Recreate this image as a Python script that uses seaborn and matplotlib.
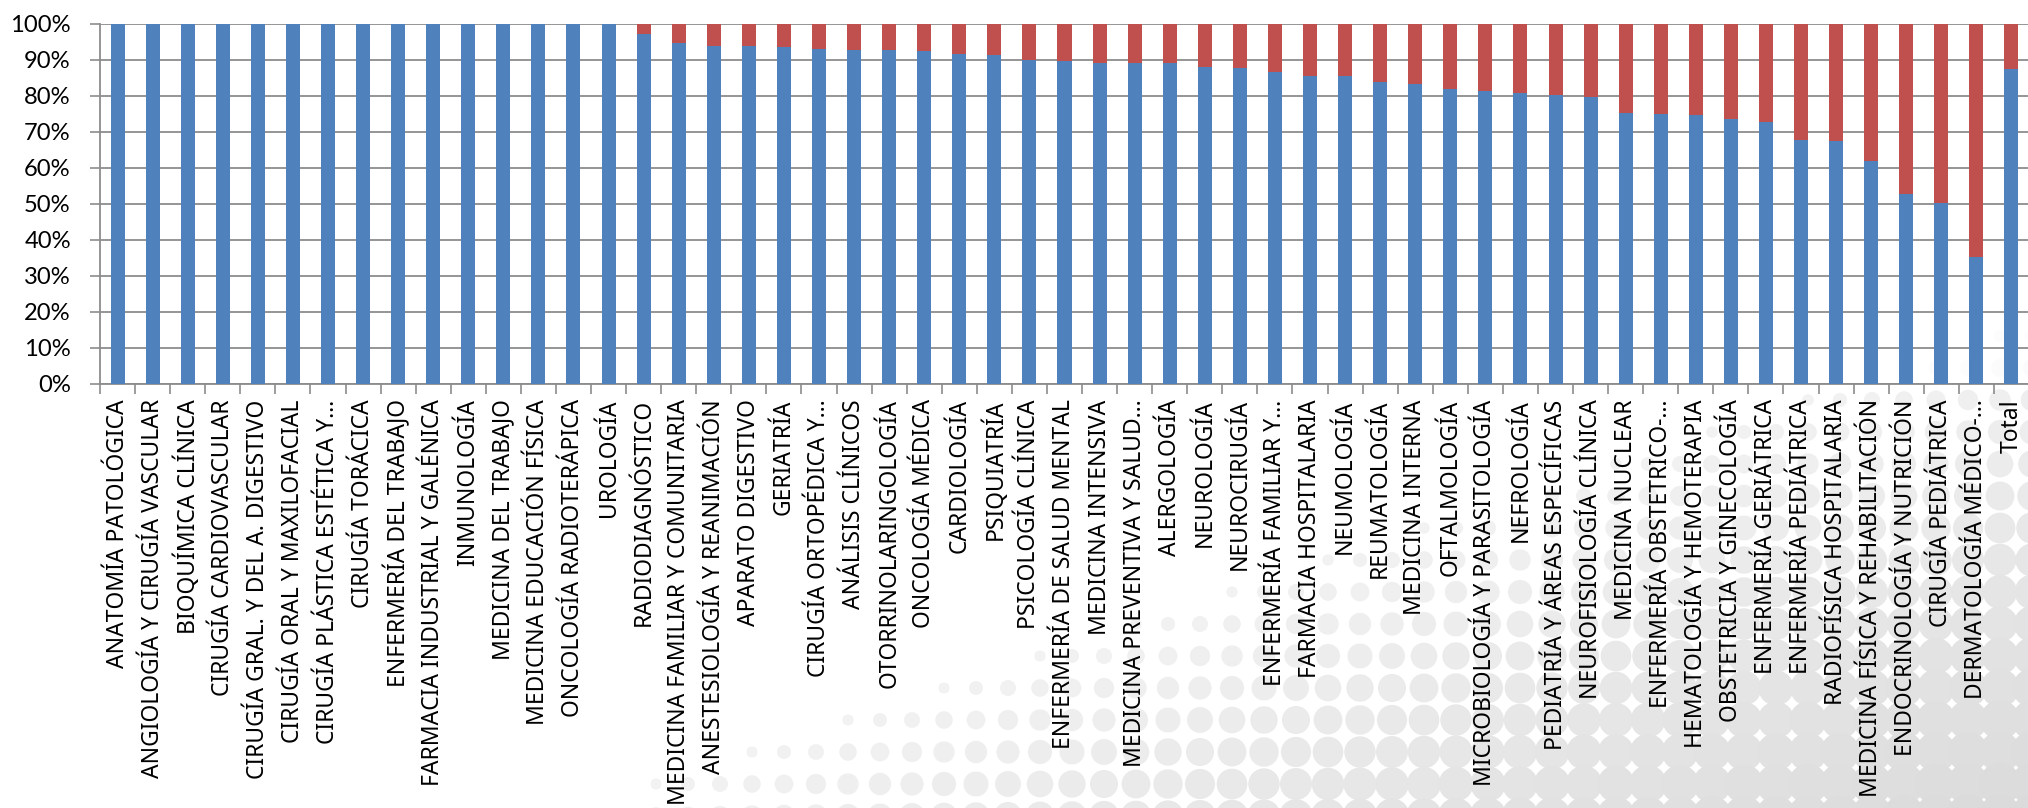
import numpy as np
import matplotlib
matplotlib.use("Agg")
import matplotlib.pyplot as plt
from matplotlib.patches import Circle
from matplotlib.collections import PatchCollection
import seaborn as sns

# categories (x axis) and the two stacked shares (%)
especialidades = [
    "ANATOMÍA PATOLÓGICA", "ANGIOLOGÍA Y CIRUGÍA VASCULAR", "BIOQUÍMICA CLÍNICA",
    "CIRUGÍA CARDIOVASCULAR", "CIRUGÍA GRAL. Y DEL A. DIGESTIVO", "CIRUGÍA ORAL Y MAXILOFACIAL",
    "CIRUGÍA PLÁSTICA ESTÉTICA Y…", "CIRUGÍA TORÁCICA", "ENFERMERÍA DEL TRABAJO",
    "FARMACIA INDUSTRIAL Y GALÉNICA", "INMUNOLOGÍA", "MEDICINA DEL TRABAJO",
    "MEDICINA EDUCACIÓN FÍSICA", "ONCOLOGÍA RADIOTERÁPICA", "UROLOGÍA",
    "RADIODIAGNÓSTICO", "MEDICINA FAMILIAR Y COMUNITARIA", "ANESTESIOLOGÍA Y REANIMACIÓN",
    "APARATO DIGESTIVO", "GERIATRÍA", "CIRUGÍA ORTOPÉDICA Y…", "ANÁLISIS CLÍNICOS",
    "OTORRINOLARINGOLOGÍA", "ONCOLOGÍA MÉDICA", "CARDIOLOGÍA", "PSIQUIATRÍA",
    "PSICOLOGÍA CLÍNICA", "ENFERMERÍA DE SALUD MENTAL", "MEDICINA INTENSIVA",
    "MEDICINA PREVENTIVA Y SALUD…", "ALERGOLOGÍA", "NEUROLOGÍA", "NEUROCIRUGÍA",
    "ENFERMERÍA FAMILIAR Y…", "FARMACIA HOSPITALARIA", "NEUMOLOGÍA", "REUMATOLOGÍA",
    "MEDICINA INTERNA", "OFTALMOLOGÍA", "MICROBIOLOGÍA Y PARASITOLOGÍA", "NEFROLOGÍA",
    "PEDIATRÍA Y ÁREAS ESPECÍFICAS", "NEUROFISIOLOGÍA CLÍNICA", "MEDICINA NUCLEAR",
    "ENFERMERÍA OBSTETRICO-…", "HEMATOLOGÍA Y HEMOTERAPIA", "OBSTETRICIA Y GINECOLOGÍA",
    "ENFERMERÍA GERIÁTRICA", "ENFERMERÍA PEDIÁTRICA", "RADIOFÍSICA HOSPITALARIA",
    "MEDICINA FÍSICA Y REHABILITACIÓN", "ENDOCRINOLOGÍA Y NUTRICIÓN", "CIRUGÍA PEDIÁTRICA",
    "DERMATOLOGÍA MÉDICO-…", "Total",
]

pct_azul = [
    100, 100, 100, 100, 100, 100, 100, 100, 100, 100, 100, 100, 100, 100, 100,
    97.1, 94.7, 93.8, 93.8, 93.5, 93.1, 92.9, 92.9, 92.5, 91.6, 91.4,
    89.9, 89.6, 89.2, 89.1, 89.1, 88.1, 87.9, 86.6, 85.5, 85.5,
    83.9, 83.2, 81.9, 81.4, 80.9, 80.3, 79.7, 75.2, 74.9, 74.7, 73.6, 72.7,
    67.9, 67.4, 62.0, 52.7, 50.2, 35.2, 87.6,
]

pct_rojo = [
    0, 0, 0, 0, 0, 0, 0, 0, 0, 0, 0, 0, 0, 0, 0,
    2.9, 5.3, 6.2, 6.2, 6.5, 6.9, 7.1, 7.1, 7.5, 8.4, 8.6,
    10.1, 10.4, 10.8, 10.9, 10.9, 11.9, 12.1, 13.4, 14.5, 14.5,
    16.1, 16.8, 18.1, 18.6, 19.1, 19.7, 20.3, 24.8, 25.1, 25.3, 26.4, 27.3,
    32.1, 32.6, 38.0, 47.3, 49.8, 64.8, 12.4,
]

azul = "#4F81BD"
rojo = "#C0504D"

plt.rcParams["font.family"] = ["Noto Sans", "DejaVu Sans"]

W, H = 2028, 808
fig = plt.figure(figsize=(W / 100, H / 100), dpi=100)
fig.patch.set_facecolor("white")

# decorative halftone dots behind the chart (bottom right corner)
bg = fig.add_axes([0, 0, 1, 1], zorder=0)
bg.set_xlim(0, W)
bg.set_ylim(H, 0)
bg.axis("off")
paso = 32
circles, colors = [], []
for yy in np.arange(paso / 2, H + paso, paso):
    for xx in np.arange(paso / 2, W + paso, paso):
        lvl = (478 * (xx - 560) + 1428 * (yy - 808)) / (478 * 1428)
        if lvl <= 0:
            continue
        lvl = min(lvl, 1.0)
        r = 2.5 + 19 * lvl ** 0.45
        g = 0.95 - 0.09 * lvl
        circles.append(Circle((xx, yy), r))
        colors.append((g, g, g))
bg.add_collection(PatchCollection(circles, facecolors=colors, edgecolors="none"))

ax = fig.add_axes([100 / W, 1 - 384 / H, (W - 99) / W, 360 / H], zorder=1)
ax.set_facecolor((1, 1, 1, 0.8))

total = [a + b for a, b in zip(pct_azul, pct_rojo)]
sns.barplot(x=especialidades, y=total, color=rojo, width=0.4, saturation=1, ax=ax, zorder=3)
sns.barplot(x=especialidades, y=pct_azul, color=azul, width=0.4, saturation=1, ax=ax, zorder=4)

ax.set_xlim(-0.5, len(especialidades) - 0.5)
ax.set_ylim(0, 100)
ax.set_yticks(range(0, 101, 10))
ax.set_yticklabels([f"{v}%" for v in range(0, 101, 10)])
ax.yaxis.grid(True, color="#8C8C8C", linewidth=1.3, zorder=1)
ax.set_axisbelow(True)

ax.set_xticks(range(len(especialidades)))
ax.set_xticklabels(especialidades)
ax.set_xticks(np.arange(-0.5, len(especialidades), 1), minor=True)
ax.tick_params(axis="x", which="major", length=0, pad=11)
ax.tick_params(axis="x", which="minor", length=7, width=1.2, color="#8C8C8C")
ax.tick_params(axis="y", length=7, width=1.2, color="#8C8C8C", pad=14)
ax.set_xlabel("")
ax.set_ylabel("")

for lab in ax.get_yticklabels():
    lab.set_fontfamily("Lato")
    lab.set_fontsize(16.5)
for lab in ax.get_xticklabels():
    lab.set_fontfamily("Noto Sans")
    lab.set_fontsize(16.3)
    lab.set_rotation(90)
    lab.set_verticalalignment("top")
    lab.set_horizontalalignment("center")

# size the labels from their rendered length (reference: ~270 px and ~378 px, "100%" ~60 px)
fig.canvas.draw()
xl = ax.get_xticklabels()
fx = 0.5 * (270 / xl[0].get_window_extent().height + 378 / xl[1].get_window_extent().height)
yl = ax.get_yticklabels()
fy = 60 / yl[-1].get_window_extent().width
for lab in xl:
    lab.set_fontsize(16.3 * fx)
for lab in yl:
    lab.set_fontsize(16.5 * fy)

for s in ["top", "right"]:
    ax.spines[s].set_visible(False)
for s in ["left", "bottom"]:
    ax.spines[s].set_color("#8C8C8C")
    ax.spines[s].set_linewidth(1.3)

fig.savefig("out.png", dpi=100, facecolor="white")
